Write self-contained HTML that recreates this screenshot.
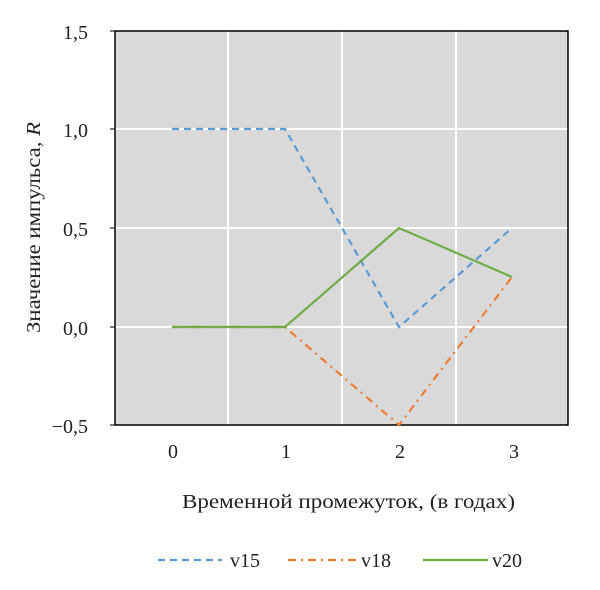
<!DOCTYPE html>
<html><head><meta charset="utf-8"><style>body{margin:0;background:#fff}</style></head>
<body>
<svg width="600" height="585" xmlns="http://www.w3.org/2000/svg" font-family="Liberation Serif, serif" font-size="20" fill="#222">
<rect x="115" y="31" width="453" height="394" fill="#d9d9d9"/>
<g stroke="#fff" stroke-width="2">
<line x1="115" y1="129" x2="568" y2="129"/><line x1="115" y1="228" x2="568" y2="228"/><line x1="115" y1="327" x2="568" y2="327"/>
<line x1="228" y1="31" x2="228" y2="425"/><line x1="342" y1="31" x2="342" y2="425"/><line x1="456" y1="31" x2="456" y2="425"/>
</g>
<rect x="115" y="31" width="453" height="394" fill="none" stroke="#000" stroke-width="1.5"/>
<g stroke="#000" stroke-width="1"><line x1="110" y1="31" x2="115" y2="31"/><line x1="110" y1="129" x2="115" y2="129"/><line x1="110" y1="228" x2="115" y2="228"/><line x1="110" y1="327" x2="115" y2="327"/><line x1="110" y1="425" x2="115" y2="425"/></g>
<polyline points="172,327 285,327 399,425 512,277" fill="none" stroke="#ed7d31" stroke-width="2.2" stroke-dasharray="8,5,2,5"/>
<polyline points="172,129 285,129 399,327 512,228" fill="none" stroke="#5b9bd5" stroke-width="2.2" stroke-dasharray="7,5"/>
<polyline points="172,327 285,327 399,228 512,277" fill="none" stroke="#70ad47" stroke-width="2.2"/>
<g text-anchor="end"><text x="88" y="39">1,5</text><text x="88" y="137">1,0</text><text x="88" y="236">0,5</text><text x="88" y="335">0,0</text><text x="88" y="433">−0,5</text></g>
<g text-anchor="middle"><text x="173" y="458">0</text><text x="286" y="458">1</text><text x="400" y="458">2</text><text x="514" y="458">3</text></g>
<text x="182" y="508" textLength="333" lengthAdjust="spacingAndGlyphs">Временной промежуток, (в годах)</text>
<text transform="translate(40,333) rotate(-90)" textLength="211" lengthAdjust="spacingAndGlyphs">Значение импульса, <tspan font-style="italic">R</tspan></text>
<line x1="158" y1="560" x2="222" y2="560" stroke="#5b9bd5" stroke-width="2.2" stroke-dasharray="7,5"/><text x="230" y="567">v15</text>
<line x1="288" y1="560" x2="356" y2="560" stroke="#ed7d31" stroke-width="2.2" stroke-dasharray="8,5,2,5"/><text x="361" y="567">v18</text>
<line x1="423" y1="560" x2="488" y2="560" stroke="#70ad47" stroke-width="2.2"/><text x="492" y="567">v20</text>
</svg>
</body></html>
